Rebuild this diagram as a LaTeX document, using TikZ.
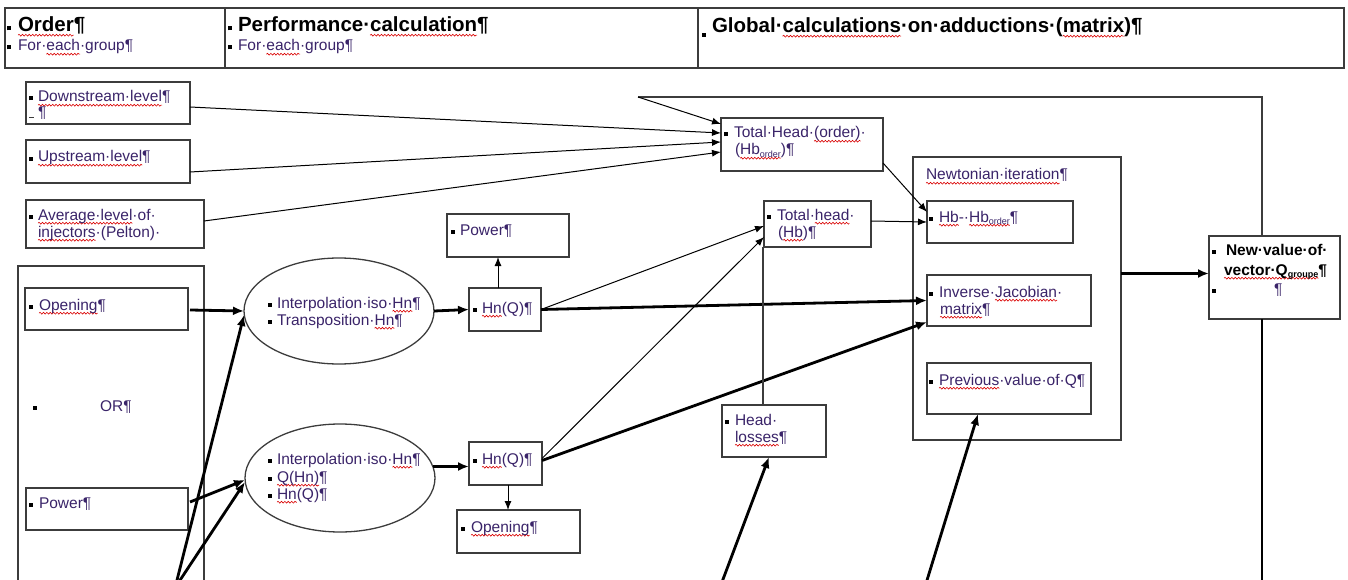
\documentclass[tikz,border=0pt]{standalone}
\usepackage{fontspec}
\setmainfont{Liberation Sans}
\usetikzlibrary{arrows.meta,shapes.geometric,calc,decorations.pathmorphing}
\definecolor{tx}{RGB}{58,36,105}
\definecolor{bc}{RGB}{60,60,60}
\newsavebox\sqbox
\newcommand\sq[1]{\sbox\sqbox{#1}\rlap{\tikz[baseline=0pt]{\useasboundingbox (0pt,0pt); \draw[red!85!black,line width=0.6pt,decorate,decoration={snake,segment length=3.4pt,amplitude=0.9pt}] (0pt,-3.2pt) -- (\the\wd\sqbox,-3.2pt);}}\usebox\sqbox}
\newcommand\bu{\textcolor{black}{\rule[1.5pt]{4pt}{4pt}}}
\newcommand\pil{¶}
\newcommand\sub[1]{\raisebox{-2.5pt}{\fontsize{9}{9}\selectfont #1}}
\newcommand\bx[5]{\node[box,minimum width={(#4-#2)*1pt},minimum height={(#5-#3)*1pt}] (#1) at (#2,#3) {};}
\newcommand\tline[5][tl]{\node[#1] (#2) at (#3,#4) {#5};}
\begin{document}
\begin{tikzpicture}[x=1pt,y=-1pt,
  box/.style={draw=bc,line width=1.3pt,inner sep=0pt,outer sep=0pt,anchor=north west},
  tl/.style={anchor=base west,inner sep=0pt,outer sep=0pt,text=tx,font=\fontsize{15.5}{18}\selectfont},
  tlh/.style={tl,text=black,font=\fontsize{20.5}{24}\selectfont\bfseries},
  tlb/.style={tl,text=black,font=\fontsize{15.5}{18}\selectfont\bfseries},
  thinarr/.style={line width=1pt,-{Latex[length=9pt,width=7pt]}},
  thickarr/.style={line width=2.8pt,-{Latex[length=11pt,width=9pt]}},
  plain/.style={line width=1.2pt,draw=bc},
  thickline/.style={line width=2.8pt}]

\useasboundingbox (0,0) rectangle (1348,580);
\clip (0,0) rectangle (1348,580);

% header table
\bx{hda}{5}{8}{225}{68}
\bx{hdb}{225}{8}{698}{68}
\bx{hdc}{698}{8}{1344}{68}
\tline[tlh]{h1}{7}{32}{\bu\hspace{7pt}\sq{Order}\pil}
\tline{h1s}{7}{51}{\bu\hspace{7pt}For·\sq{each}·group\pil}
\tline[tlh]{h2}{228}{32}{\bu\hspace{6pt}Performance·\sq{calculation}\pil}
\tline{h2s}{228}{51}{\bu\hspace{6pt}For·\sq{each}·group\pil}
\tline[tlh]{h3}{702}{33}{\rule[-4pt]{4pt}{4pt}\hspace{6pt}Global·\sq{calculations}·on·adductions·(\sq{matrix})\pil}

% left input boxes
\bx{down}{26}{82}{190}{124}
\bx{up}{26}{140}{190}{183}
\bx{avg}{26}{200}{204}{248}
\tline{t_down}{29}{102}{\bu\hspace{5pt}\sq{Downstream·level}\pil}
\tline{t_down2}{29}{118}{\textcolor{bc}{\rule{5pt}{1pt}}\hspace{4pt}\pil}
\tline{t_up}{29}{162}{\bu\hspace{5pt}\sq{Upstream·level}\pil}
\tline{t_avg1}{29}{220}{\bu\hspace{5pt}\sq{Average·level}·of·}
\tline{t_avg2}{38}{237}{\sq{injectors}·(Pelton)·}

% total head (order)
\bx{tho}{721}{118}{883}{171}
\tline{t_tho1}{724}{138}{\bu\hspace{6pt}Total·Head·\sq{(order)}·}
\tline{t_tho2}{735}{155}{(\sq{Hb\sub{order}})\pil}

% Newtonian iteration
\bx{newt}{913}{157}{1121}{440}
\tline{t_newt}{926}{180}{\sq{Newtonian·iteration}\pil}
\bx{hbd}{927}{201}{1073}{243}
\tline{t_hbd}{929}{222}{\bu\hspace{6pt}\sq{Hb}-·\sq{Hb\sub{order}}\pil}
\bx{jac}{927}{275}{1091}{326}
\tline{t_jac1}{929}{297}{\bu\hspace{6pt}Inverse·\sq{Jacobian}·}
\tline{t_jac2}{940}{314}{\sq{matrix}\pil}
\bx{prev}{927}{363}{1091}{414}
\tline{t_prev}{929}{385}{\bu\hspace{6pt}\sq{Previous}·value·of·Q\pil}

% new value
\bx{newv}{1209}{236}{1340}{319}
\tline[tlb]{t_nv1}{1212}{255}{\bu\hspace{10pt}New·value·of·}
\tline[tlb]{t_nv2}{1224}{275}{\sq{vector·Q\sub{groupe}}\pil}
\tline{t_nv3}{1212}{294}{\bu\hspace{58pt}\pil}

% total head (Hb), head losses
\bx{thb}{764}{201}{871}{247}
\tline{t_thb1}{767}{220}{\bu\hspace{6pt}Total·\sq{head}·}
\tline{t_thb2}{778}{237}{(\sq{Hb})\pil}
\bx{loss}{722}{405}{826}{457}
\tline{t_loss1}{725}{425}{\bu\hspace{6pt}Head·}
\tline{t_loss2}{735}{442}{\sq{losses}\pil}

% left container
\bx{orb}{18}{266}{204}{600}
\bx{opL}{25}{288}{188}{330}
\tline{t_opL}{29}{310}{\bu\hspace{6pt}\sq{Opening}\pil}
\tline{t_or}{33}{411}{\bu\hspace{63pt}OR\pil}
\bx{powL}{26}{488}{188}{530}
\tline{t_powL}{29}{508}{\bu\hspace{6pt}Power\pil}

% ellipses
\node[draw=bc,line width=1.3pt,ellipse,minimum width=190pt,minimum height=106pt,inner sep=0pt,outer sep=0pt] (el1) at (339,311) {};
\node[draw=bc,line width=1.3pt,ellipse,minimum width=190pt,minimum height=108pt,inner sep=0pt,outer sep=0pt] (el2) at (340,478) {};
\tline{t_el1a}{268}{308}{\bu\hspace{5pt}Interpolation·iso·\sq{Hn}\pil}
\tline{t_el1b}{268}{325}{\bu\hspace{5pt}Transposition·\sq{Hn}\pil}
\tline{t_el2a}{268}{464}{\bu\hspace{5pt}Interpolation·iso·\sq{Hn}\pil}
\tline{t_el2b}{268}{482}{\bu\hspace{5pt}\sq{Q(Hn)}\pil}
\tline{t_el2c}{268}{499}{\bu\hspace{5pt}\sq{Hn}(Q)\pil}

% Hn(Q) and outputs
\bx{hnA}{469}{288}{541}{331}
\tline{t_hnA}{473}{313}{\bu\hspace{5pt}\sq{Hn}(Q)\pil}
\bx{hnB}{469}{442}{542}{485}
\tline{t_hnB}{473}{464}{\bu\hspace{5pt}\sq{Hn}(Q)\pil}
\bx{powT}{447}{214}{569}{257}
\tline{t_powT}{451}{235}{\bu\hspace{5pt}Power\pil}
\bx{opB}{457}{510}{580}{553}
\tline{t_opB}{461}{532}{\bu\hspace{6pt}\sq{Opening}\pil}

% coordinates for free ends
\coordinate (fb1) at (1262,97);
\coordinate (fb2) at (638,97);
\coordinate (b1) at (174.5,590);
\coordinate (b2) at (173.5,590);
\coordinate (b3) at (719,590);
\coordinate (b4) at (924,590);
\coordinate (b5) at (1262,590);

% connectors into Total Head (order)
\draw[thinarr] ($(down.east)+(0,4)$) -- ($(tho.west)+(0,-11.5)$);
\draw[thinarr] ($(up.east)+(0,10.5)$) -- ($(tho.west)+(0,-2.5)$);
\draw[thinarr] ($(avg.east)+(0,-3)$) -- ($(tho.west)+(0,7.5)$);
\draw[plain] ($(newv.north)+(-12.5,0)$) -- (fb1) -- (fb2);
\draw[thinarr] (fb2) -- ($(tho.west)+(0,-20.5)$);

% into Newtonian
\draw[thinarr] ($(tho.east)+(0,18.5)$) -- ($(hbd.west)+(0,-10)$);
\draw[thinarr] ($(thb.east)+(0,-3)$) -- (hbd.west);
\draw[thinarr] (hnA.east) -- ($(thb.west)+(0,2)$);
\draw[thickarr] (hnA.east) -- (jac.west);
\draw[thinarr] ($(hnB.east)+(0,-5)$) -- ($(thb.west)+(0,13)$);
\draw[thickarr] ($(hnB.east)+(0,-3)$) -- ($(jac.west)+(0,21.5)$);

% Hn(Q) outputs
\coordinate (pa) at ($(hnA.north)+(-7,0)$);
\draw[thinarr] (pa) -- (pa |- powT.south);
\coordinate (pb) at ($(hnB.south)+(2.5,0)$);
\draw[thinarr] (pb) -- (pb |- opB.north);

% into ellipses
\draw[thickarr] ($(opL.east)+(2,1)$) -- (el1.west);
\draw[thickarr] ($(powL.east)+(2,-7)$) -- ($(el2.west)+(0,2)$);
\draw[thickarr] (b1) -- ($(el1.west)+(0,4)$);
\draw[thickarr] (b2) -- ($(el2.west)+(0,4)$);
\draw[thickarr] (el1.east) -- (hnA.west);
\coordinate (h2) at ($(hnB.west)+(0,3)$);
\draw[thickarr] ($(h2 -| el2.east)+(-2,0)$) -- (h2);

% head losses and previous Q
\coordinate (l1) at ($(loss.north)+(-11,0)$);
\draw[plain] (l1) -- (l1 |- thb.south);
\draw[thickarr] (b3) -- ($(loss.south)+(-5,0)$);
\draw[thickarr] (b4) -- ($(prev.south)+(-31,0)$);

% to new value, and onward
\coordinate (nv) at ($(newv.west)+(0,-4)$);
\draw[thickarr] (nv -| newt.east) -- (nv);
\draw[thickline] ($(newv.south)+(-12.5,0)$) -- (b5);
\end{tikzpicture}
\end{document}
